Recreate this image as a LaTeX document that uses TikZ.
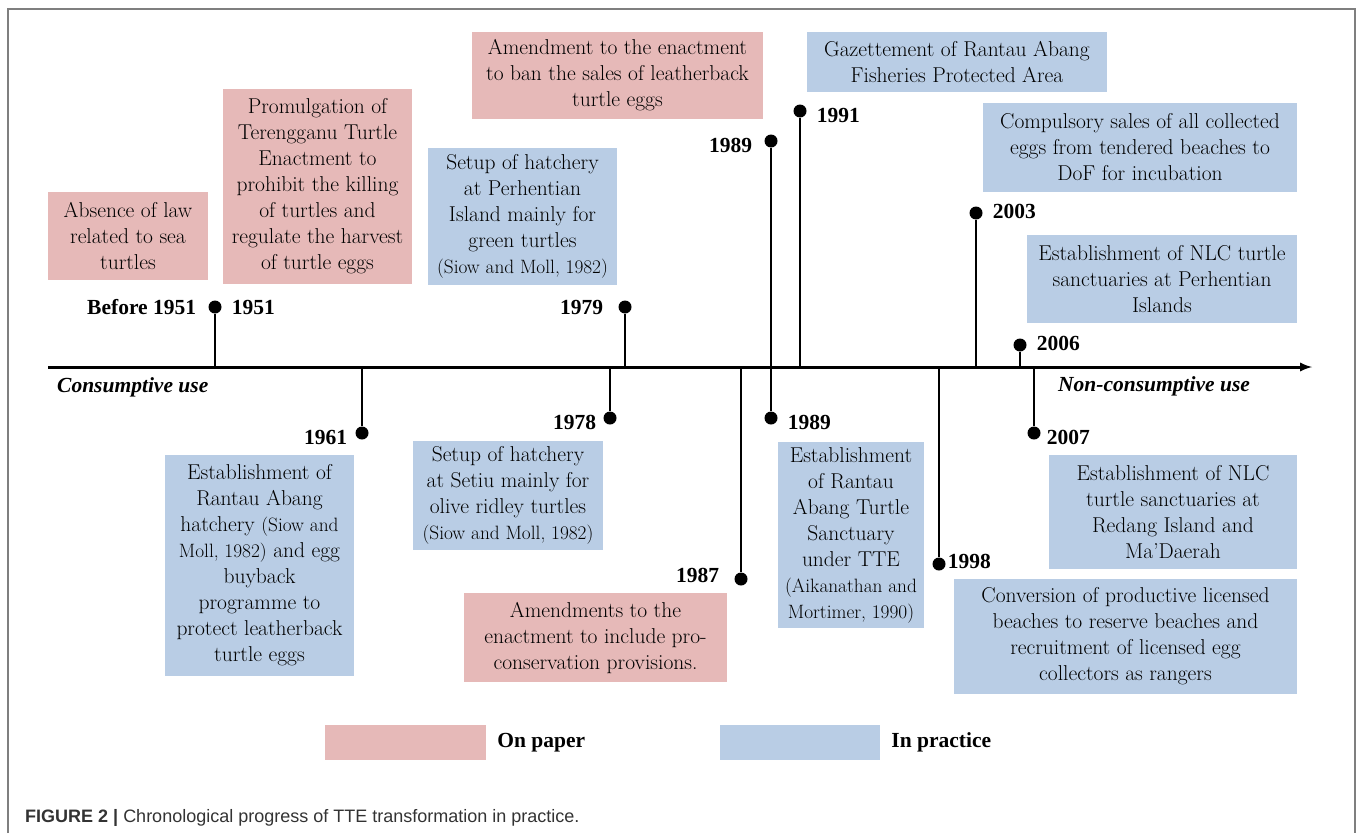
\documentclass[tikz,border=0pt]{standalone}
\usepackage{fontspec}
\newfontfamily\yearfont{Liberation Serif}
\newfontfamily\capfont{Liberation Sans}
\usetikzlibrary{positioning}
\definecolor{paperpink}{HTML}{E6B9B8}
\definecolor{practiceblue}{HTML}{B9CDE5}
\definecolor{framegray}{HTML}{7F7F7F}
\newcommand{\refsmall}[1]{{\fontsize{19.3}{24}\selectfont #1}}
\tikzset{
  paper/.style={fill=paperpink, align=center, inner sep=0pt, font=\fontsize{21.5}{26}\selectfont},
  practice/.style={fill=practiceblue, align=center, inner sep=0pt, font=\fontsize{21.5}{26}\selectfont},
  year/.style={inner sep=0pt, font=\yearfont\fontsize{21.5}{26}\selectfont\bfseries},
  usage/.style={inner sep=0pt, anchor=west, font=\yearfont\fontsize{21.5}{26}\selectfont\bfseries\itshape},
  dot/.style={circle, fill, inner sep=0pt, minimum size=13pt},
  stem/.style={line width=2.2pt},
}
\begin{document}
\begin{tikzpicture}[>=latex, x=1pt, y=-1pt]
\useasboundingbox (0,0) rectangle (1357,833);
% frame
\draw[framegray, line width=1.5pt] (8,833) -- (8,9) -- (1355,9) -- (1355,833);

% axis
\coordinate (axisL) at (48,367);
\coordinate (axisR) at (1312,367);
\draw[line width=3pt, ->] (axisL) -- (axisR);
\node[usage] (cons) at (57,387) {Consumptive use};
\node[usage] (noncons) at (1058,386) {Non-consumptive use};

% events above the axis
\coordinate (a1951) at (215,367);
\node[dot] (d1951) at (215,307) {};
\draw[stem] (a1951) -- (d1951);
\node[year, left=12pt of d1951] (y1950) {Before 1951};
\node[year, right=10pt of d1951] (y1951) {1951};

\coordinate (a1979) at (625,367);
\node[dot] (d1979) at (625,307) {};
\draw[stem] (a1979) -- (d1979);
\node[year, left=15pt of d1979] (y1979) {1979};

\node[dot] (d1989a) at (771,141) {};
\node[dot] (d1989b) at (771,418) {};
\draw[stem] (d1989a) -- (d1989b);
\node[year, left=12pt of d1989a, yshift=-4pt] (y1989a) {1989};
\node[year, right=10pt of d1989b, yshift=-4pt] (y1989b) {1989};

\coordinate (a1991) at (800,367);
\node[dot] (d1991) at (800,111) {};
\draw[stem] (a1991) -- (d1991);
\node[year, right=10pt of d1991, yshift=-4pt] (y1991) {1991};

\coordinate (a2003) at (976,367);
\node[dot] (d2003) at (976,213) {};
\draw[stem] (a2003) -- (d2003);
\node[year, right=10pt of d2003, yshift=2pt] (y2003) {2003};

\coordinate (a2006) at (1020,367);
\node[dot] (d2006) at (1020,345) {};
\draw[stem] (a2006) -- (d2006);
\node[year, right=10pt of d2006, yshift=2pt] (y2006) {2006};

% events below the axis
\coordinate (a1961) at (362,367);
\node[dot] (d1961) at (362,433) {};
\draw[stem] (a1961) -- (d1961);
\node[year, left=8pt of d1961, yshift=-4pt] (y1961) {1961};

\coordinate (a1978) at (610,367);
\node[dot] (d1978) at (610,418) {};
\draw[stem] (a1978) -- (d1978);
\node[year, left=7pt of d1978, yshift=-4pt] (y1978) {1978};

\coordinate (a1987) at (741,367);
\node[dot] (d1987) at (741,579) {};
\draw[stem] (a1987) -- (d1987);
\node[year, left=15pt of d1987, yshift=4pt] (y1987) {1987};

\coordinate (a1998) at (939,367);
\node[dot] (d1998) at (939,564) {};
\draw[stem] (a1998) -- (d1998);
\node[year, right=2pt of d1998, yshift=3pt] (y1998) {1998};

\coordinate (a2007) at (1034,367);
\node[dot] (d2007) at (1034,433) {};
\draw[stem] (a2007) -- (d2007);
\node[year, right=6pt of d2007, yshift=-4pt] (y2007) {2007};

% boxes on paper
\node[paper, minimum width=160pt, minimum height=88pt] (absence) at (128,236)
  {Absence of law\\related to sea\\turtles};
\node[paper, minimum width=189pt, minimum height=195pt] (promulg) at (317.5,186.5)
  {Promulgation of\\Terengganu Turtle\\Enactment to\\prohibit the killing\\of turtles and\\regulate the harvest\\of turtle eggs};
\node[paper, minimum width=291pt, minimum height=87pt] (banleather) at (617.5,75.5)
  {Amendment to the enactment\\to ban the sales of leatherback\\turtle eggs};
\node[paper, minimum width=263pt, minimum height=89pt] (proconserv) at (595.5,637.5)
  {Amendments to the\\enactment to include pro-\\conservation provisions.};

% boxes in practice
\node[practice, minimum width=189pt, minimum height=137pt] (perhentian) at (522.5,216.5)
  {Setup of hatchery\\at Perhentian\\Island mainly for\\green turtles\\\refsmall{(Siow and Moll, 1982)}};
\node[practice, minimum width=300pt, minimum height=60pt] (gazette) at (957,62)
  {Gazettement of Rantau Abang\\Fisheries Protected Area};
\node[practice, minimum width=314pt, minimum height=89pt] (compulsory) at (1140,147.5)
  {Compulsory sales of all collected\\eggs from tendered beaches to\\DoF for incubation};
\node[practice, minimum width=270pt, minimum height=88pt] (nlcperh) at (1162,279)
  {Establishment of NLC turtle\\sanctuaries at Perhentian\\Islands};
\node[practice, minimum width=189pt, minimum height=221pt] (rantau) at (259.5,565.5)
  {Establishment of\\Rantau Abang\\hatchery \refsmall{(Siow and}\\\refsmall{Moll, 1982)} and egg\\buyback\\programme to\\protect leatherback\\turtle eggs};
\node[practice, minimum width=190pt, minimum height=109pt] (setiu) at (508,495.5)
  {Setup of hatchery\\at Setiu mainly for\\olive ridley turtles\\\refsmall{(Siow and Moll, 1982)}};
\node[practice, minimum width=146pt, minimum height=186pt] (sanctuary) at (851,535)
  {Establishment\\of Rantau\\Abang Turtle\\Sanctuary\\under TTE\\\refsmall{(Aikanathan and}\\\refsmall{Mortimer, 1990)}};
\node[practice, minimum width=248pt, minimum height=114pt] (nlcredang) at (1173,512)
  {Establishment of NLC\\turtle sanctuaries at\\Redang Island and\\Ma'Daerah};
\node[practice, minimum width=343pt, minimum height=115pt] (conversion) at (1125.5,636.5)
  {Conversion of productive licensed\\beaches to reserve beaches and\\recruitment of licensed egg\\collectors as rangers};

% legend
\node[paper, minimum width=161pt, minimum height=35pt] (legpaper) at (405.5,742.5) {};
\node[year, right=11pt of legpaper] (onpaper) {On paper};
\node[practice, minimum width=160pt, minimum height=35pt] (legpractice) at (800,742.5) {};
\node[year, right=11pt of legpractice] (inpractice) {In practice};

% caption
\node[anchor=west, inner sep=0pt, text=black!80, font=\capfont\fontsize{18}{22}\selectfont] (caption) at (25,818)
  {\textbf{FIGURE 2 |} Chronological progress of TTE transformation in practice.};
\end{tikzpicture}
\end{document}
